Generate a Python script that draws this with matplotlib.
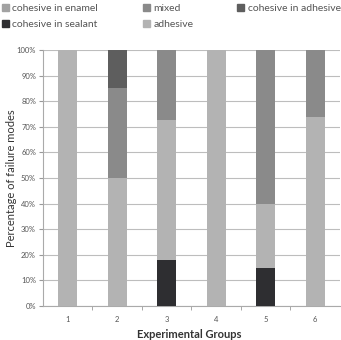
import matplotlib
matplotlib.use('Agg')
from matplotlib import pyplot as plt
from matplotlib.patches import Patch
import numpy as np

plt.rcParams['font.family'] = ['Lato', 'DejaVu Sans']

groups = ['1', '2', '3', '4', '5', '6']
sealant = [0, 0, 18, 0, 15, 0]
adhesive = [100, 50, 54.5, 100, 25, 74]
mixed = [0, 35, 27.5, 0, 60, 26]
coh_adhesive = [0, 15, 0, 0, 0, 0]
enamel = [0, 0, 0, 0, 0, 0]

c_sealant = '#2e2e31'
c_adhesive = '#b3b3b3'
c_mixed = '#8a8a8a'
c_coh_adh = '#5e5e5e'
c_enamel = '#a2a2a2'

fig = plt.figure(figsize=(3.41, 3.40), dpi=100)
ax = fig.add_axes([0.126, 0.1, 0.871, 0.753])

x = np.arange(1, len(groups) + 1)
w = 0.39
bottom = np.zeros(len(groups))
for vals, col in [(sealant, c_sealant), (adhesive, c_adhesive),
                  (mixed, c_mixed), (coh_adhesive, c_coh_adh), (enamel, c_enamel)]:
    v = np.array(vals, dtype=float)
    ax.bar(x, v, w, bottom=bottom, color=col, zorder=3)
    bottom += v

ax.set_xlim(0.5, 6.5)
ax.set_ylim(0, 100)
ax.set_yticks(np.arange(0, 101, 10))
ax.set_yticklabels(['%d%%' % t for t in range(0, 101, 10)])
ax.set_xticks(x)
ax.set_xticklabels(groups)
ax.set_xticks(np.arange(1.5, 6.5, 1), minor=True)
ax.tick_params(axis='x', which='major', length=0, pad=7, labelsize=5.5, labelcolor='#555555')
ax.tick_params(axis='x', which='minor', length=3, color='#999999', direction='out')
ax.tick_params(axis='y', length=3, color='#999999', labelsize=5.5, labelcolor='#555555', pad=2)
ax.grid(axis='y', color='#bdbdbd', linewidth=0.8, zorder=0)
for s in ['top', 'right']:
    ax.spines[s].set_visible(False)
for s in ['left', 'bottom']:
    ax.spines[s].set_color('#aaaaaa')

fig.text(12 / 341, 1 - 178 / 340, 'Percentage of failure modes', rotation=90,
         ha='center', va='center', fontsize=8, color='#333333')
fig.text(0.555, 0.0, 'Experimental Groups', ha='center', va='bottom',
         fontsize=8, fontweight='bold', color='#333333')

# legend laid out in three columns like the original
cols = [
    (0.0, [(c_enamel, 'cohesive in enamel'), (c_sealant, 'cohesive in sealant')]),
    (141 / 341, [(c_mixed, 'mixed'), (c_adhesive, 'adhesive')]),
    (235 / 341, [(c_coh_adh, 'cohesive in adhesive')]),
]
for x0, items in cols:
    fig.legend([Patch(color=c) for c, _ in items], [t for _, t in items],
               loc='upper left', bbox_to_anchor=(x0, 1 - 2 / 340), frameon=False,
               fontsize=7.5, handlelength=0.7, handleheight=0.7, handletextpad=0.35,
               labelspacing=0.7, labelcolor='#555555', borderpad=0.15, borderaxespad=0.0)

fig.savefig('out.png', dpi=100)
